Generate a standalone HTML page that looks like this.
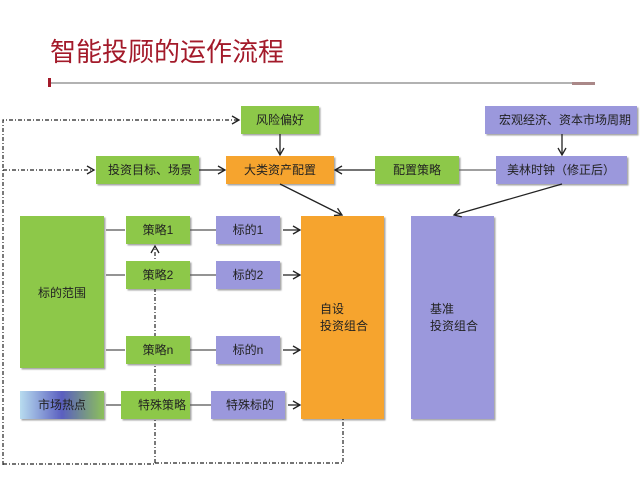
<!DOCTYPE html>
<html><head><meta charset="utf-8"><style>
html,body{margin:0;padding:0;background:#fff;}
svg{display:block;}
text{font-family:"Liberation Sans","Noto Sans CJK SC",sans-serif;font-size:12px;fill:#222;}
</style></head><body>
<svg width="640" height="480" viewBox="0 0 640 480" xmlns="http://www.w3.org/2000/svg">
<defs>
<marker id="a" markerWidth="10" markerHeight="10" refX="8" refY="5" orient="auto" markerUnits="userSpaceOnUse">
<path d="M1,1 L8,5 L1,9" fill="none" stroke="#222" stroke-width="1.3"/></marker>
<linearGradient id="hot" x1="0" x2="1" y1="0" y2="0">
<stop offset="0" stop-color="#b8dcef"/><stop offset="0.5" stop-color="#5a5fc0"/><stop offset="1" stop-color="#8cc05a"/></linearGradient>
<filter id="sh" x="-10%" y="-10%" width="130%" height="130%"><feDropShadow dx="1.5" dy="1.5" stdDeviation="0.8" flood-color="#000" flood-opacity="0.35"/></filter>
</defs>
<text x="50" y="61" style="font-size:26px;fill:#a31a2a">智能投顾的运作流程</text>
<line x1="49" y1="83" x2="595" y2="83" stroke="#999" stroke-width="1.5"/>
<rect x="48" y="78" width="3" height="9" fill="#a31a2a"/>
<rect x="572" y="82" width="23" height="3" fill="#a88"/>

<g stroke="#222" stroke-width="1.2" fill="none" stroke-dasharray="4,2,1,2">
<polyline points="3,465 3,120 239,120" marker-end="url(#a)"/>
<line x1="3" y1="170" x2="94" y2="170" marker-end="url(#a)"/>
<polyline points="3,464 155,464 155,246" marker-end="url(#a)"/>
<polyline points="155,463 343,463 343,419"/>
</g>

<g filter="url(#sh)">
<rect x="241" y="106" width="78" height="28" fill="#8dc84a"/>
<rect x="485" y="106" width="152" height="28" fill="#9b98dc"/>
<rect x="96" y="156" width="103" height="28" fill="#8dc84a"/>
<rect x="226" y="156" width="108" height="28" fill="#f6a42f"/>
<rect x="375" y="156" width="84" height="28" fill="#8dc84a"/>
<rect x="496" y="156" width="131" height="28" fill="#9b98dc"/>
<rect x="20" y="216" width="84" height="152" fill="#8dc84a"/>
<rect x="126" y="216" width="64" height="28" fill="#8dc84a"/>
<rect x="126" y="261" width="64" height="28" fill="#8dc84a"/>
<rect x="126" y="336" width="64" height="28" fill="#8dc84a"/>
<rect x="216" y="216" width="64" height="28" fill="#9b98dc"/>
<rect x="216" y="261" width="64" height="28" fill="#9b98dc"/>
<rect x="216" y="336" width="64" height="28" fill="#9b98dc"/>
<rect x="20" y="391" width="84" height="28" fill="url(#hot)"/>
<rect x="121" y="391" width="69" height="28" fill="#8dc84a"/>
<rect x="211" y="391" width="74" height="28" fill="#9b98dc"/>
<rect x="301" y="216" width="83" height="203" fill="#f6a42f"/>
<rect x="411" y="216" width="83" height="203" fill="#9b98dc"/>
</g>

<g stroke="#222" stroke-width="1.3" fill="none">
<line x1="280" y1="134" x2="280" y2="155" marker-end="url(#a)"/>
<line x1="562" y1="134" x2="562" y2="155" marker-end="url(#a)"/>
<line x1="199" y1="170" x2="225" y2="170" marker-end="url(#a)"/>
<line x1="375" y1="170" x2="335" y2="170" marker-end="url(#a)"/>
<line x1="459" y1="170" x2="496" y2="170" stroke="#666"/>
<line x1="280" y1="184" x2="342" y2="215" marker-end="url(#a)"/>
<line x1="562" y1="184" x2="454" y2="215" marker-end="url(#a)"/>
<g stroke="#555"><line x1="106" y1="230" x2="125" y2="230"/><line x1="106" y1="275" x2="125" y2="275"/><line x1="106" y1="350" x2="125" y2="350"/>
<line x1="190" y1="230" x2="216" y2="230"/><line x1="190" y1="275" x2="216" y2="275"/><line x1="190" y1="350" x2="216" y2="350"/>
<line x1="106" y1="405" x2="121" y2="405"/><line x1="190" y1="405" x2="211" y2="405"/></g>
<line x1="283" y1="230" x2="300" y2="230" marker-end="url(#a)"/>
<line x1="283" y1="275" x2="300" y2="275" marker-end="url(#a)"/>
<line x1="283" y1="350" x2="300" y2="350" marker-end="url(#a)"/>
<line x1="288" y1="405" x2="300" y2="405" marker-end="url(#a)"/>
</g>

<text x="280" y="124" text-anchor="middle">风险偏好</text>
<text x="565" y="124" text-anchor="middle">宏观经济、资本市场周期</text>
<text x="150" y="174" text-anchor="middle">投资目标、场景</text>
<text x="280" y="174" text-anchor="middle">大类资产配置</text>
<text x="417" y="174" text-anchor="middle">配置策略</text>
<text x="561" y="174" text-anchor="middle">美林时钟（修正后）</text>
<text x="62" y="297" text-anchor="middle">标的范围</text>
<text x="158" y="234" text-anchor="middle">策略1</text>
<text x="158" y="279" text-anchor="middle">策略2</text>
<text x="158" y="354" text-anchor="middle">策略n</text>
<text x="248" y="234" text-anchor="middle">标的1</text>
<text x="248" y="279" text-anchor="middle">标的2</text>
<text x="248" y="354" text-anchor="middle">标的n</text>
<text x="62" y="409" text-anchor="middle">市场热点</text>
<text x="162" y="409" text-anchor="middle">特殊策略</text>
<text x="250" y="409" text-anchor="middle">特殊标的</text>
<text x="320" y="313">自设</text>
<text x="320" y="330">投资组合</text>
<text x="430" y="313">基准</text>
<text x="430" y="330">投资组合</text>
</svg>
</body></html>
